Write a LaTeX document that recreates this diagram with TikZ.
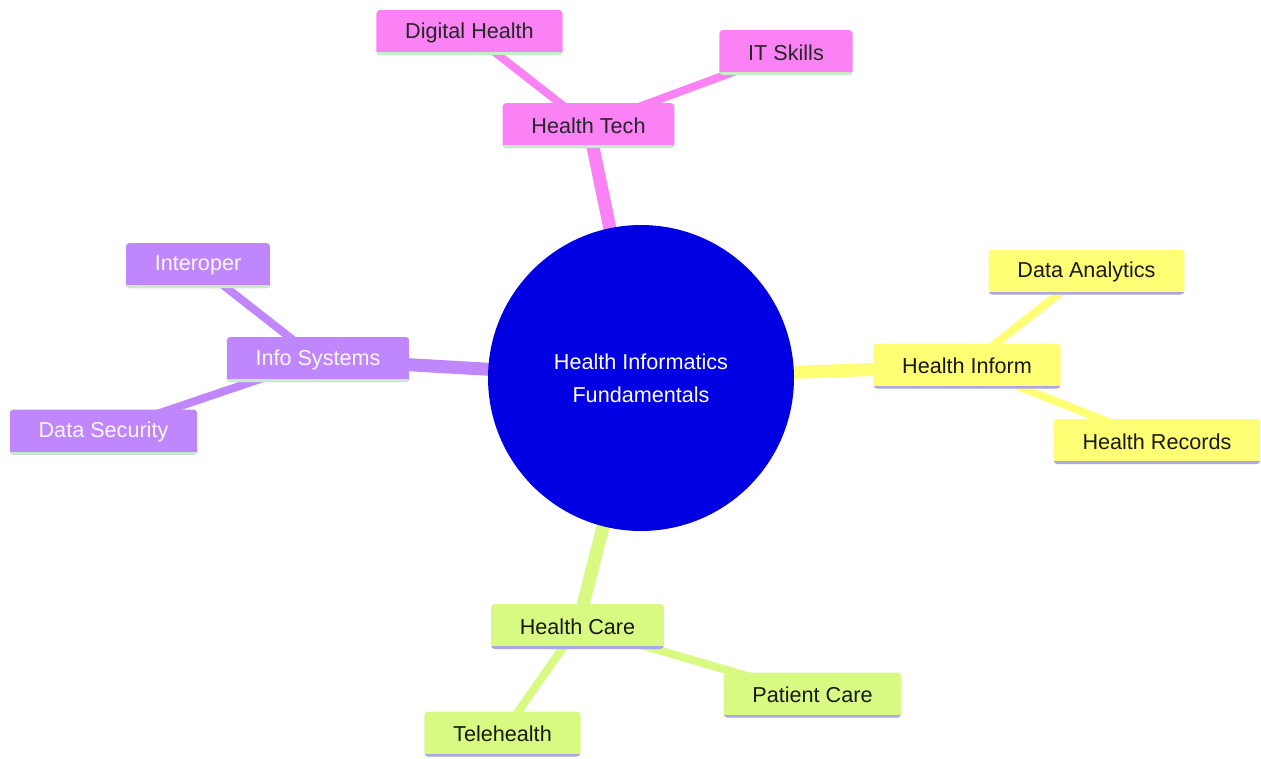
\documentclass[tikz,border=0pt]{standalone}
\usepackage{fontspec}
\setmainfont{Liberation Sans}
\usetikzlibrary{backgrounds}
\definecolor{hubblue}{RGB}{0,0,226}
\definecolor{techpink}{RGB}{250,130,245}
\definecolor{infoyellow}{RGB}{255,255,118}
\definecolor{carelime}{RGB}{216,250,130}
\definecolor{syspurple}{RGB}{192,134,252}
\definecolor{mintline}{RGB}{196,238,196}
\definecolor{lavline}{RGB}{172,168,232}
\tikzset{
  topic/.style={rounded corners=2pt, inner xsep=0.575cm, minimum height=0.9cm,
    font=\fontsize{12.3}{14}\selectfont,
    path picture={\draw[line width=3pt, #1]
      (path picture bounding box.south west) -- (path picture bounding box.south east);}},
  techbox/.style={topic=mintline, fill=techpink, text=black!85},
  infobox/.style={topic=lavline, fill=infoyellow, text=black!90},
  carebox/.style={topic=lavline, fill=carelime, text=black!90},
  sysbox/.style={topic=mintline, fill=syspurple, text=white!94!syspurple},
  hub/.style={circle, fill=hubblue, minimum size=6.12cm, text=white, align=center,
    font=\fontsize{12.3}{18.8}\selectfont},
  trunk/.style={line width=0.26cm},
  twig/.style={line width=0.16cm}
}

\begin{document}
\begin{tikzpicture}[x=0.02cm, y=-0.02cm]
\useasboundingbox (0,0) rectangle (1261,758);

% ---------- Centre ----------
\node[hub] (core) at (641,378) {Health Informatics\\Fundamentals};

% ---------- Health Tech ----------
\node[techbox] (htech) at (588.5,125.5) {Health Tech};
\node[techbox] (dighealth) at (469.5,32.5) {Digital Health};
\node[techbox] (itskills) at (786,52.5) {IT Skills};

% ---------- Health Inform ----------
\node[infobox] (hinform) at (967,366) {Health Inform};
\node[infobox] (danalytics) at (1086.5,272) {Data Analytics};
\node[infobox] (hrecords) at (1157,441.5) {Health Records};

% ---------- Info Systems ----------
\node[sysbox] (infosys) at (318,359.5) {Info Systems};
\node[sysbox] (interop) at (198,265.5) {Interoper};
\node[sysbox] (dsecurity) at (103.5,432) {Data Security};

% ---------- Health Care ----------
\node[carebox] (hcare) at (577.5,626.5) {Health Care};
\node[carebox] (pcare) at (812.5,695) {Patient Care};
\node[carebox] (telehealth) at (502.5,734) {Telehealth};

% ---------- Branches ----------
\begin{pgfonlayer}{background}
\draw[trunk, techpink] (core.center) -- (htech.center);
\draw[trunk, infoyellow] (core.center) -- (hinform.center);
\draw[trunk, syspurple] (core.center) -- (infosys.center);
\draw[trunk, carelime] (core.center) -- (hcare.center);

\draw[twig, techpink] (htech.center) -- (dighealth.center);
\draw[twig, techpink] (htech.center) -- (itskills.center);
\draw[twig, infoyellow] (hinform.center) -- (danalytics.center);
\draw[twig, infoyellow] (hinform.center) -- (hrecords.center);
\draw[twig, syspurple] (infosys.center) -- (interop.center);
\draw[twig, syspurple] (infosys.center) -- (dsecurity.center);
\draw[twig, carelime] (hcare.center) -- (pcare.center);
\draw[twig, carelime] (hcare.center) -- (telehealth.center);
\end{pgfonlayer}

\end{tikzpicture}
\end{document}
